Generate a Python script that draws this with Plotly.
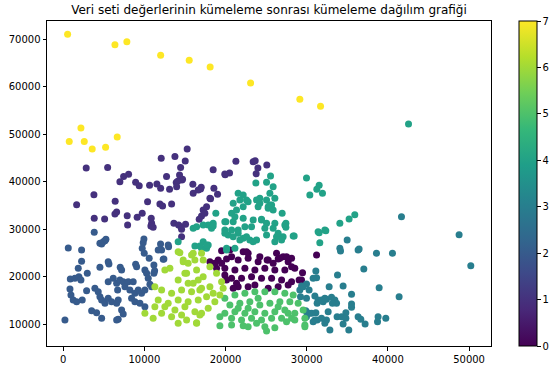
import plotly.graph_objects as go

# cluster 0 (dark purple)
c0_x = [19090, 20120, 21550, 22780, 24010, 25250, 26480, 27710, 18890, 19910, 21150, 22380, 23610, 24840,
        26070, 27300, 28530, 20740, 21970, 23200, 24430, 25670, 26900, 28130, 29360, 21550, 22780, 23610,
        25250, 26480, 27710, 19910, 19510, 19510, 20740, 22170, 22780, 24220, 26280, 27090, 28130, 31210,
        29480, 29060, 28130, 25120, 25860, 26690, 27510, 20530, 22580, 18070, 18680, 20120, 21350, 20940]
c0_y = [23500, 23710, 23500, 23860, 23140, 23500, 23710, 23140, 21750, 21750, 21390, 21750, 21390, 21750,
        21390, 21390, 21750, 19640, 19640, 19980, 19640, 19640, 19280, 18920, 19280, 17870, 17870, 18230,
        17530, 17870, 18230, 20340, 22810, 25460, 24200, 25250, 24920, 24200, 24920, 24200, 23860, 24560,
        20820, 19280, 22090, 23500, 22810, 23860, 24200, 25610, 25250, 23140, 22810, 19280, 18590, 17530]

# cluster 1 (purple)
c1_x = [2830, 5470, 12070, 13760, 15270, 15030, 14460, 21270, 23400, 23650, 25080, 23980, 23770, 18470,
        19950, 20490, 7440, 8050, 6980, 8920, 9360, 10640, 11540, 12730, 13920, 14620, 14330, 15970, 17000,
        18560, 12000, 13100, 14700, 14090, 13970, 16920, 16630, 16010, 3780, 1650, 6400, 10390, 11910,
        12240, 13350, 6580, 6370, 3820, 5100, 7880, 9110, 9730, 7930, 10840, 10890, 10800, 11080, 13630,
        14210, 14500, 15070, 14580, 14580, 17240, 17660, 17040, 16750, 17450, 18150, 19010, 18070, 19910]
c1_y = [42900, 43000, 44960, 45300, 46900, 44400, 43000, 44300, 44200, 44450, 43550, 42900, 41700, 42550,
        41500, 41850, 41100, 41580, 40000, 39900, 39180, 39260, 39540, 41100, 39830, 40380, 41430, 39470,
        38840, 38630, 38630, 38400, 40530, 40100, 38970, 38480, 38270, 37570, 37280, 35170, 35890, 35800,
        35320, 34890, 35320, 33630, 33210, 32300, 32150, 32850, 32510, 33350, 30890, 32300, 31240, 30670,
        30400, 31240, 30890, 30530, 31030, 29980, 28420, 34050, 34750, 32780, 32090, 33350, 36430, 37360,
        36520, 41650]

# cluster 2 (blue)
c2_x = [620, 4730, 5140, 2260, 4520, 5540, 5630, 1850, 2960, 7020, 7190, 8920, 9040, 9850, 9730, 9980,
        10590, 11170, 11260, 11170, 11990, 12120, 12400, 12980, 10060, 10270, 10470, 10680, 870, 1440,
        1930, 2180, 830, 950, 1230, 1650, 2340, 2880, 3900, 4310, 4520, 4730, 5140, 5540, 5960, 6580,
        6770, 5540, 6160, 6580, 6980, 7390, 8010, 8620, 6700, 7600, 8210, 8830, 9240, 9650, 10060, 8420,
        8830, 9450, 10060, 10890, 7190, 7390, 6770, 6580, 3500, 4110, 4730, 210, 9940, 2260, 3820, 4520,
        4930, 5260, 12320, 11700, 12930]
c2_y = [26030, 26880, 27570, 23230, 21960, 23140, 22660, 21750, 20700, 21960, 21390, 22590, 22090, 27150,
        25970, 24920, 23860, 22450, 21240, 20700, 26880, 25610, 23710, 26310, 21390, 20700, 19640, 18380,
        19490, 19640, 19980, 19280, 17380, 16120, 15060, 14700, 15060, 17020, 17530, 16810, 15760, 15060,
        14370, 15420, 14700, 14370, 15060, 18920, 19640, 18590, 19280, 18920, 18920, 18920, 17170, 17870,
        17170, 16480, 17170, 16480, 17170, 15420, 14700, 14370, 13650, 17870, 12950, 12110, 10990, 10840,
        12810, 12380, 11200, 10840, 27930, 25610, 29350, 27030, 27360, 27870, 23650, 25610, 26670]

# cluster 3 (teal blue)
c3_x = [41670, 48770, 50210, 34980, 34080, 34160, 36330, 36450, 38590, 40560, 37030, 33790, 31120, 31210,
        29970, 29360, 29150, 30290, 29230, 29970, 31000, 31400, 31280, 32020, 32430, 33050, 33460, 33670,
        33170, 32760, 34480, 35520, 35520, 38920, 41380, 29890, 30290, 31120, 32640, 32430, 32850, 31280,
        30790, 32230, 33740, 34290, 34820, 34820, 34480, 35180, 36330, 36660, 37190, 38790, 38720, 39740,
        35520, 29560, 30790, 31820, 32230, 31000, 31820, 29970, 30590]
c3_y = [32640, 28840, 22300, 27720, 25970, 25400, 25610, 25820, 24920, 24920, 21600, 20340, 21180, 19770,
        18440, 18020, 17170, 17170, 15760, 15420, 15910, 15060, 14370, 14700, 15200, 15630, 15060, 14370,
        14370, 17870, 18020, 16270, 13520, 17660, 15760, 12810, 12260, 12380, 12600, 10840, 8730, 10840,
        10490, 10150, 11540, 11540, 12380, 11200, 10000, 8730, 11540, 10990, 10000, 11540, 10490, 11200,
        14220, 17870, 19640, 15060, 15420, 10840, 11200, 11540, 12260]

# cluster 4 (green teal)
c4_x = [42540, 25540, 29970, 31530, 31240, 23730, 25050, 25860, 21550, 22170, 22780, 22580, 23820, 25050,
        24220, 26070, 25460, 25250, 24010, 26970, 18800, 18470, 17860, 18270, 20740, 21150, 20940, 20040,
        22170, 23400, 24430, 26070, 27300, 19910, 20740, 21550, 22380, 23200, 24840, 20320, 21550, 22170,
        22990, 23820, 25050, 26280, 27090, 28330, 26070, 26900, 17240, 17040, 17660, 20120, 21150, 17860,
        30380, 31940, 31400, 32230, 31610, 25250, 25670, 24430, 27430, 27430, 28450, 34080, 35220, 35920,
        31530, 32350, 16010, 16430, 17240, 18470, 17660, 16830, 16220, 14160, 19910, 20940, 21760, 21350,
        22170, 19910, 20940, 21760, 22580, 23400, 20120, 25460, 24220, 25860, 25050, 25860, 26480]
c4_y = [52200, 41220, 40800, 39260, 38420, 39750, 39900, 38970, 37570, 37220, 35800, 36160, 36160, 36160,
        36520, 36520, 35110, 34410, 34750, 33350, 33350, 31240, 30890, 30190, 33350, 32640, 31580, 31580,
        32300, 31940, 31940, 31240, 30890, 29830, 29830, 29830, 30530, 30530, 30190, 28780, 29130, 28080,
        27720, 27720, 28780, 28420, 28420, 28570, 27360, 27720, 27360, 25970, 25970, 25610, 25970, 26670,
        37220, 37570, 29470, 29830, 27150, 34750, 35110, 32090, 31240, 30400, 28570, 31240, 32150, 33060,
        29260, 29680, 30190, 30530, 30890, 30670, 26670, 26460, 26460, 27360, 31580, 35460, 36160, 34050,
        34750, 29130, 28420, 27720, 28420, 27360, 25970, 37570, 35460, 34050, 31240, 30190, 29130]

# cluster 5 (green)
c5_x = [19910, 21150, 22380, 23610, 24840, 26070, 27300, 28330, 20530, 21760, 22990, 24220, 25460, 26690,
        27920, 28940, 19910, 21150, 22380, 23610, 24840, 26070, 27300, 28530, 29560, 19300, 20740, 21970,
        23200, 24430, 25670, 26900, 28130, 29770, 19300, 20740, 22170, 23820, 24840, 26070, 27510, 28530,
        29770, 25050, 22780, 21550, 24010, 26480, 27710, 22780, 29770]
c5_y = [15420, 16120, 16480, 16810, 16810, 16810, 16480, 16120, 14010, 14370, 14700, 14010, 14370, 14700,
        14700, 14370, 12260, 12600, 12260, 12600, 12260, 12600, 12950, 12260, 12950, 11540, 11200, 10840,
        11200, 10840, 11200, 11200, 11200, 11200, 9640, 9790, 9640, 10150, 9430, 9220, 10490, 10840,
        9790, 8520, 9430, 13310, 15420, 13650, 12260, 13310, 9430]

# cluster 6 (light green)
c6_x = [14370, 15810, 16220, 17040, 14780, 15390, 13140, 12520, 14990, 14160, 15390, 16630, 11290, 12120,
        13350, 14580, 15810, 17040, 11700, 12930, 14160, 15390, 16630, 11290, 12520, 13760, 14990, 10060,
        11080, 12120, 13350, 14580, 16220, 17040, 14160, 15200, 16430, 14160, 14780, 16010, 17240, 18070,
        18890, 19510, 19700, 19300, 18680, 17860, 16830, 16430, 16010, 16830, 17660, 17240, 16430, 18070,
        18470, 15200]
c6_y = [25040, 24560, 23500, 24920, 23140, 22810, 21750, 21390, 20700, 19280, 18590, 19280, 17870, 17170,
        16480, 17170, 16810, 17530, 15060, 14370, 15060, 14700, 15060, 13650, 13650, 12950, 13650, 12260,
        11200, 12260, 11540, 11900, 12600, 12260, 10150, 10840, 10150, 25250, 23500, 24920, 23500, 22090,
        20700, 18920, 17530, 16120, 14700, 13310, 11900, 10270, 18590, 17170, 15760, 19980, 21390, 17870,
        16480, 20700]

# cluster 7 (yellow)
c7_x = [540, 6370, 7840, 12000, 15520, 18100, 23080, 29150, 31700, 2180, 740, 2590, 3570, 5220, 6650]
c7_y = [71120, 68900, 69500, 66700, 65600, 64200, 60800, 57400, 55900, 51350, 48500, 48500, 46900, 47300, 49450]

title_text = "Veri seti değerlerinin kümeleme sonrası kümeleme dağılım grafiği"
x_ticks = [0, 10000, 20000, 30000, 40000, 50000]
y_ticks = [10000, 20000, 30000, 40000, 50000, 60000, 70000]
cbar_ticks = [0, 1, 2, 3, 4, 5, 6, 7]

clusters = [(c0_x, c0_y), (c1_x, c1_y), (c2_x, c2_y), (c3_x, c3_y),
            (c4_x, c4_y), (c5_x, c5_y), (c6_x, c6_y), (c7_x, c7_y)]
xs, ys, labels = [], [], []
for k, (cx, cy) in enumerate(clusters):
    xs += cx
    ys += cy
    labels += [k] * len(cx)

W, H = 553, 372
pl, pr, pt, pb = 47, 491, 21, 346  # plot area in pixels

fig = go.Figure(go.Scatter(
    x=xs, y=ys, mode="markers",
    marker=dict(
        size=7, color=labels, colorscale="Viridis", cmin=0, cmax=7,
        line=dict(width=0),
        colorbar=dict(
            x=519 / W, xanchor="left", y=(H - pb) / H, yanchor="bottom",
            len=(pb - pt) / H, lenmode="fraction",
            thickness=18, thicknessmode="pixels", outlinewidth=1, outlinecolor="black",
            xpad=0, ypad=0,
            tickvals=cbar_ticks, ticks="outside", ticklen=3.5, tickcolor="black",
            tickfont=dict(family="DejaVu Sans", size=10, color="black"),
        ),
    ),
    showlegend=False,
))

axis_common = dict(
    showline=True, linecolor="black", linewidth=1, mirror=True, ticks="outside",
    ticklen=3.5, tickcolor="black", showgrid=False, zeroline=False, automargin=False,
    tickfont=dict(family="DejaVu Sans", size=10, color="black"),
)
fig.update_xaxes(range=[-2000, 52700], tickvals=x_ticks, tickformat="d",
                 domain=[pl / W, pr / W], **axis_common)
fig.update_yaxes(range=[5360, 73900], tickvals=y_ticks, tickformat="d",
                 domain=[(H - pb) / H, (H - pt) / H], **axis_common)

fig.update_layout(
    width=W, height=H,
    margin=dict(l=0, r=0, t=0, b=0, autoexpand=False),
    paper_bgcolor="white", plot_bgcolor="white",
    title=dict(text=title_text, x=(pl + pr) / 2 / W, xref="paper", xanchor="center",
               y=1 - 10 / H, yref="container", yanchor="middle",
               font=dict(family="DejaVu Sans", size=12, color="black")),
)

fig.write_html("out.html", config={"displayModeBar": False},
               post_script="document.body.style.margin='0px';document.body.style.overflow='hidden';")
